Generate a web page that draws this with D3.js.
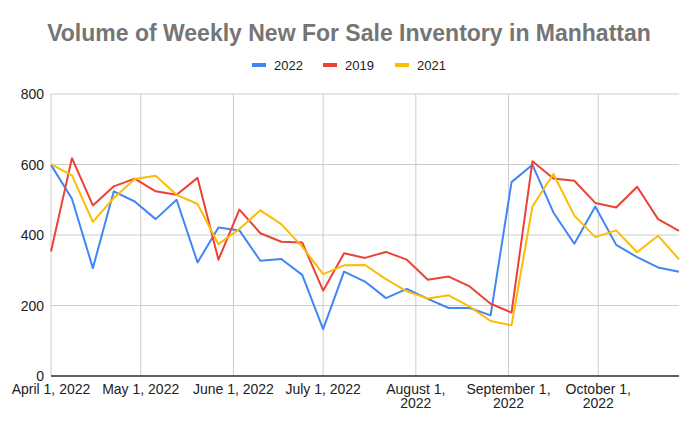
<!DOCTYPE html>
<html>
<head>
<meta charset="utf-8">
<script src="https://cdn.jsdelivr.net/npm/d3@7"></script>
<style>
  body { margin: 0; background: #fff; }
  svg text { font-family: "Liberation Sans", Arial, sans-serif; }
</style>
</head>
<body>
<script>
// weekly dates, Apr 1 to Oct 28 2022
var startDate = "2022-04-01";
var weeks = 31;
var series2022 = [599, 503, 306, 524, 495, 445, 500, 322, 421, 413,
                  327, 332, 287, 133, 296, 268, 221, 247, 219, 193,
                  193, 172, 550, 599, 464, 375, 481, 372, 337, 308, 296];
var series2019 = [353, 618, 484, 538, 560, 524, 514, 562, 330, 472,
                  405, 381, 379, 242, 348, 335, 352, 330, 273, 282,
                  254, 205, 180, 609, 560, 554, 491, 478, 537, 445, 412];
var series2021 = [601, 569, 437, 505, 559, 568, 514, 488, 374, 417,
                  470, 431, 367, 289, 314, 315, 275, 240, 220, 229,
                  197, 156, 144, 481, 573, 455, 394, 413, 351, 398, 331];
var seriesNames = ["2022", "2019", "2021"];
var seriesColors = ["#4285f4", "#ea4335", "#fbbc04"];
var yTicks = [0, 200, 400, 600, 800];
var xTickDates = ["2022-04-01", "2022-05-01", "2022-06-01", "2022-07-01",
                  "2022-08-01", "2022-09-01", "2022-10-01"];
var xTickLabels = [["April 1, 2022"], ["May 1, 2022"], ["June 1, 2022"], ["July 1, 2022"],
                   ["August 1,", "2022"], ["September 1,", "2022"], ["October 1,", "2022"]];

var w = 700, h = 432;
var margin = {top: 94, right: 21, bottom: 56, left: 51};

var parse = d3.timeParse("%Y-%m-%d");
var t0 = parse(startDate);
var dates = d3.range(weeks).map(function(i) { return d3.timeDay.offset(t0, i * 7); });

var svg = d3.select("body").append("svg")
    .attr("width", w)
    .attr("height", h);

var x = d3.scaleTime()
    .domain([dates[0], dates[dates.length - 1]])
    .range([margin.left, w - margin.right]);
var y = d3.scaleLinear()
    .domain([0, 800])
    .range([h - margin.bottom, margin.top]);

// gridlines
svg.append("g").selectAll("line.hg")
    .data(yTicks)
    .enter().append("line")
    .attr("x1", margin.left).attr("x2", w - margin.right)
    .attr("y1", function(d) { return y(d); })
    .attr("y2", function(d) { return y(d); })
    .attr("stroke", "#cccccc")
    .attr("stroke-width", 1);

svg.append("g").selectAll("line.vg")
    .data(xTickDates)
    .enter().append("line")
    .attr("x1", function(d) { return x(parse(d)); })
    .attr("x2", function(d) { return x(parse(d)); })
    .attr("y1", margin.top).attr("y2", h - margin.bottom)
    .attr("stroke", "#cccccc")
    .attr("stroke-width", 1);

// y labels
svg.append("g").selectAll("text")
    .data(yTicks)
    .enter().append("text")
    .attr("x", margin.left - 7)
    .attr("y", function(d) { return y(d) + 5; })
    .attr("text-anchor", "end")
    .attr("font-size", 14)
    .attr("fill", "#222")
    .text(function(d) { return d; });

// x labels
var xl = svg.append("g").selectAll("text")
    .data(xTickDates)
    .enter().append("text")
    .attr("x", function(d) { return x(parse(d)); })
    .attr("y", h - margin.bottom + 18)
    .attr("text-anchor", "middle")
    .attr("font-size", 14)
    .attr("fill", "#222");
xl.each(function(d, i) {
    var el = d3.select(this);
    xTickLabels[i].forEach(function(s, j) {
        el.append("tspan")
            .attr("x", x(parse(d)))
            .attr("dy", j === 0 ? 0 : 14)
            .text(s);
    });
});

// lines
var line = d3.line()
    .x(function(d, i) { return x(dates[i]); })
    .y(function(d) { return y(d); });

var allSeries = [series2022, series2019, series2021];
[0, 1, 2].forEach(function(k) {
    svg.append("path")
        .datum(allSeries[k])
        .attr("d", line)
        .attr("fill", "none")
        .attr("stroke", seriesColors[k])
        .attr("stroke-width", 2)
        .attr("stroke-linejoin", "round");
});

// axis baseline
svg.append("line")
    .attr("x1", margin.left).attr("x2", w - margin.right)
    .attr("y1", y(0)).attr("y2", y(0))
    .attr("stroke", "#333")
    .attr("stroke-width", 1.5);

// title
svg.append("text")
    .attr("x", w / 2 - 1)
    .attr("y", 41)
    .attr("text-anchor", "middle")
    .attr("font-size", 23)
    .attr("font-weight", "bold")
    .attr("fill", "#757575")
    .text("Volume of Weekly New For Sale Inventory in Manhattan");

// legend
var legendX = [252, 323, 395];
var lg = svg.append("g").selectAll("g")
    .data(seriesNames)
    .enter().append("g")
    .attr("transform", function(d, i) { return "translate(" + legendX[i] + ",65)"; });
lg.append("rect")
    .attr("x", 0).attr("y", -2)
    .attr("width", 14).attr("height", 4)
    .attr("fill", function(d, i) { return seriesColors[i]; });
lg.append("text")
    .attr("x", 22).attr("y", 5)
    .attr("font-size", 13)
    .attr("fill", "#222")
    .text(function(d) { return d; });
</script>
</body>
</html>
